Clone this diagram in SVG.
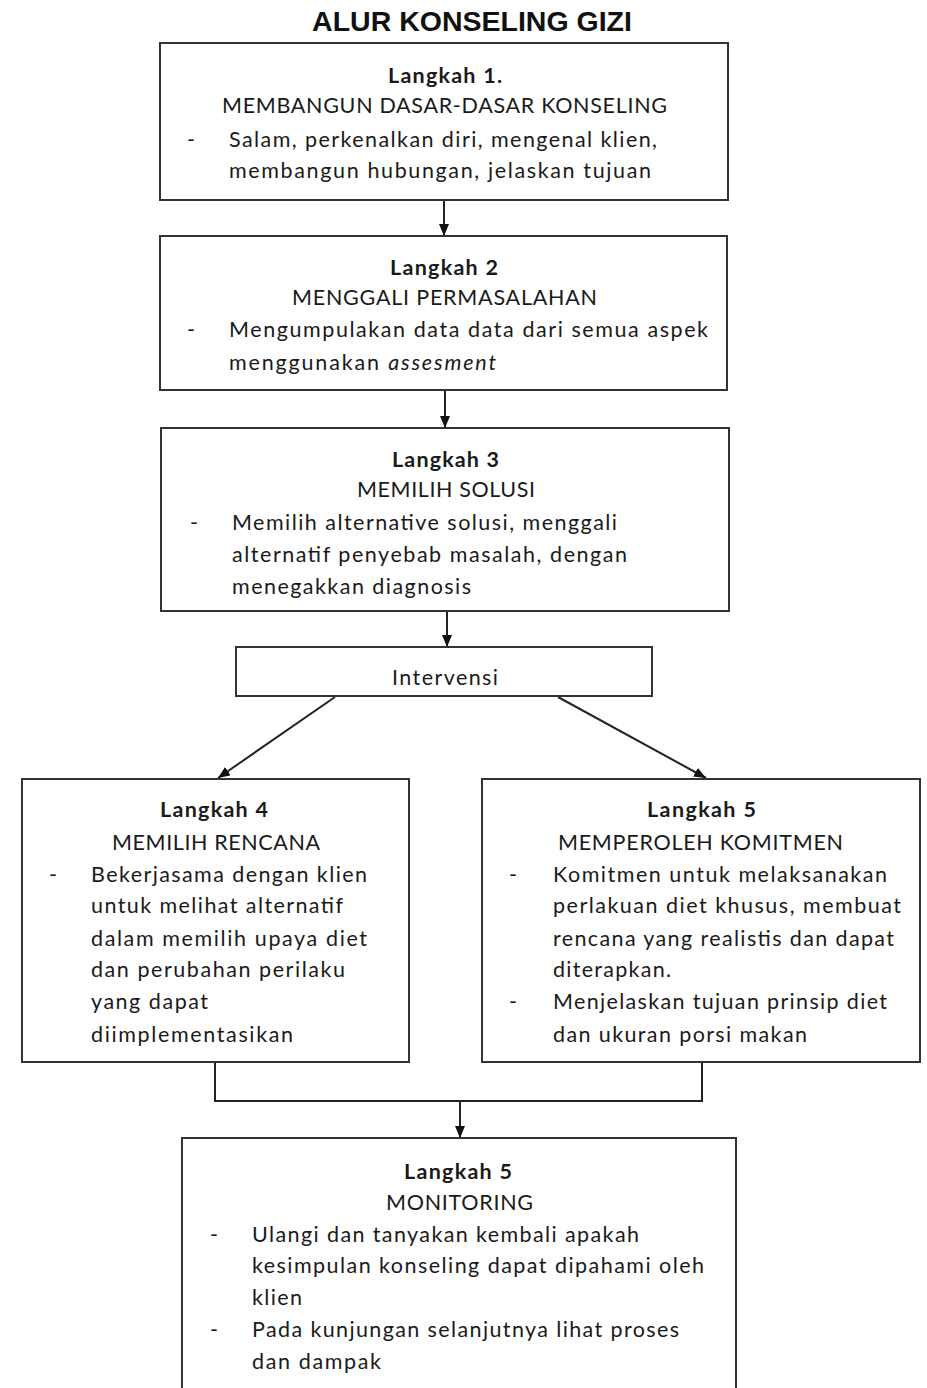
<svg xmlns="http://www.w3.org/2000/svg" width="927" height="1388" viewBox="0 0 927 1388">
<style>
.box{fill:#fff;stroke:#333;stroke-width:2}
.ln{fill:none;stroke:#222;stroke-width:2}
.t{font-family:Lato,"Open Sans","Liberation Sans",sans-serif;font-size:21.5px;fill:#1a1a1a}
.b{font-weight:bold}
.title{font-family:"Liberation Sans",Arial,sans-serif;font-size:28.5px;font-weight:bold;fill:#111;text-anchor:middle}
</style>
<defs>
<marker id="ah" viewBox="0 0 12 10" refX="12" refY="5" markerWidth="12" markerHeight="10" markerUnits="userSpaceOnUse" orient="auto"><path d="M0,0 L12,5 L0,10 z" fill="#111"/></marker>
</defs>
<rect width="927" height="1388" fill="#fff"/>
<text class="title" x="472" y="31">ALUR KONSELING GIZI</text>

<g id="connectors">
<path class="ln" d="M444,200 V236" marker-end="url(#ah)"/>
<path class="ln" d="M445,390 V428" marker-end="url(#ah)"/>
<path class="ln" d="M447,611 V647" marker-end="url(#ah)"/>
<path class="ln" d="M335,697 L218,778" marker-end="url(#ah)"/>
<path class="ln" d="M558,697 L706,778" marker-end="url(#ah)"/>
<path class="ln" d="M215,1062 V1101 H702 V1062"/>
<path class="ln" d="M460,1101 V1138" marker-end="url(#ah)"/>
</g>

<g id="step1">
<rect class="box" x="160" y="43" width="568" height="157"/>
<text class="t b" x="388" y="83" textLength="114">Langkah 1.</text>
<text class="t" x="222" y="113" textLength="445">MEMBANGUN DASAR-DASAR KONSELING</text>
<text class="t" x="187" y="147">-</text>
<text class="t" x="229" y="147" textLength="428">Salam, perkenalkan diri, mengenal klien,</text>
<text class="t" x="229" y="178" textLength="422">membangun hubungan, jelaskan tujuan</text>
</g>

<g id="step2">
<rect class="box" x="160" y="236" width="567" height="154"/>
<text class="t b" x="390" y="275" textLength="108">Langkah 2</text>
<text class="t" x="292" y="305" textLength="305">MENGGALI PERMASALAHAN</text>
<text class="t" x="187" y="337">-</text>
<text class="t" x="229" y="337" textLength="479">Mengumpulakan data data dari semua aspek</text>
<text class="t" x="229" y="370" textLength="267">menggunakan <tspan font-style="italic">assesment</tspan></text>
</g>

<g id="step3">
<rect class="box" x="161" y="428" width="568" height="183"/>
<text class="t b" x="392" y="467" textLength="107">Langkah 3</text>
<text class="t" x="357" y="497" textLength="178">MEMILIH SOLUSI</text>
<text class="t" x="190" y="530">-</text>
<text class="t" x="232" y="530" textLength="385">Memilih alternative solusi, menggali</text>
<text class="t" x="232" y="562" textLength="395">alternatif penyebab masalah, dengan</text>
<text class="t" x="232" y="594" textLength="239">menegakkan diagnosis</text>
</g>

<g id="intervensi">
<rect class="box" x="236" y="647" width="416" height="49"/>
<text class="t" x="392" y="685" textLength="106">Intervensi</text>
</g>

<g id="step4">
<rect class="box" x="22" y="779" width="387" height="283"/>
<text class="t b" x="160" y="817" textLength="108">Langkah 4</text>
<text class="t" x="112" y="850" textLength="208">MEMILIH RENCANA</text>
<text class="t" x="49" y="882">-</text>
<text class="t" x="91" y="882" textLength="276">Bekerjasama dengan klien</text>
<text class="t" x="91" y="913" textLength="252">untuk melihat alternatif</text>
<text class="t" x="91" y="946" textLength="276">dalam memilih upaya diet</text>
<text class="t" x="91" y="977" textLength="254">dan perubahan perilaku</text>
<text class="t" x="91" y="1009" textLength="117">yang dapat</text>
<text class="t" x="91" y="1042" textLength="202">diimplementasikan</text>
</g>

<g id="step5">
<rect class="box" x="482" y="779" width="438" height="283"/>
<text class="t b" x="647" y="817" textLength="109">Langkah 5</text>
<text class="t" x="558" y="850" textLength="285">MEMPEROLEH KOMITMEN</text>
<text class="t" x="509" y="882">-</text>
<text class="t" x="553" y="882" textLength="334">Komitmen untuk melaksanakan</text>
<text class="t" x="553" y="913" textLength="348">perlakuan diet khusus, membuat</text>
<text class="t" x="553" y="946" textLength="341">rencana yang realistis dan dapat</text>
<text class="t" x="553" y="977" textLength="118">diterapkan.</text>
<text class="t" x="509" y="1009">-</text>
<text class="t" x="553" y="1009" textLength="334">Menjelaskan tujuan prinsip diet</text>
<text class="t" x="553" y="1042" textLength="254">dan ukuran porsi makan</text>
</g>

<g id="step6">
<path class="box" d="M182,1400 V1138 H736 V1400"/>
<text class="t b" x="404" y="1179" textLength="108">Langkah 5</text>
<text class="t" x="386" y="1210" textLength="147">MONITORING</text>
<text class="t" x="210" y="1242">-</text>
<text class="t" x="252" y="1242" textLength="387">Ulangi dan tanyakan kembali apakah</text>
<text class="t" x="252" y="1273" textLength="452">kesimpulan konseling dapat dipahami oleh</text>
<text class="t" x="252" y="1305" textLength="50">klien</text>
<text class="t" x="210" y="1337">-</text>
<text class="t" x="252" y="1337" textLength="427">Pada kunjungan selanjutnya lihat proses</text>
<text class="t" x="252" y="1369" textLength="129">dan dampak</text>
</g>
</svg>
